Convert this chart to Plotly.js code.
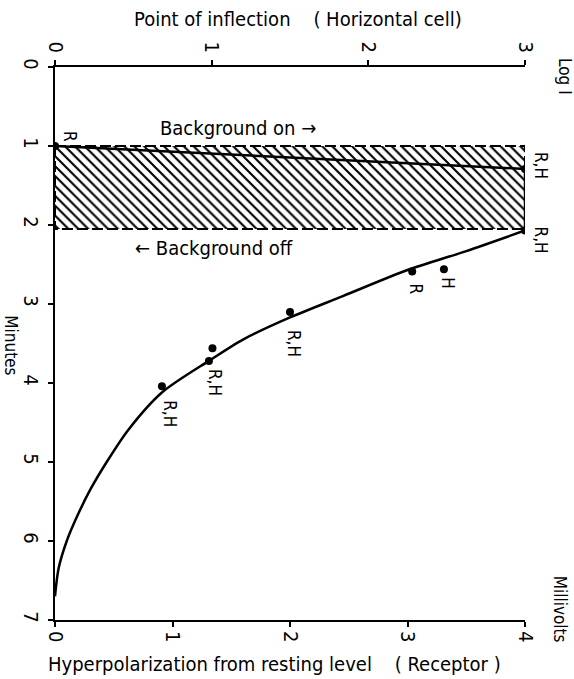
<!DOCTYPE html>
<html>
<head>
<meta charset="utf-8">
<script src="https://cdn.plot.ly/plotly-3.0.1.min.js"></script>
<style>
  html, body { margin: 0; padding: 0; background: #fff; }
  #chart { width: 574px; height: 679px; }
</style>
</head>
<body>
<div id="chart"></div>
<script>
// Receptor hyperpolarization (mV) and horizontal-cell point of inflection (log I)
// against time in minutes, with a background light on between 1 and 2 min.

// Measured points
const pointMv      = [0, 4, 4, 3.31, 3.04, 2.0, 1.34, 1.31, 0.91];
const pointMinutes = [1.0, 1.29, 2.07, 2.56, 2.59, 3.10, 3.56, 3.72, 4.04];
const pointLabels  = ['R', 'R,H', 'R,H', 'H', 'R', 'R,H', '', 'R,H', 'R,H'];

// Rising phase while background is on
const riseMv      = [0, 4, 4];
const riseMinutes = [1.0, 1.29, 2.07];

// Recovery after background off
const decayMv      = [4, 3.5, 3.0, 2.45, 2.0, 1.6, 1.32, 0.91, 0.62, 0.44, 0.3, 0.2, 0.1, 0.03, 0];
const decayMinutes = [2.07, 2.33, 2.57, 2.9, 3.17, 3.45, 3.71, 4.12, 4.6, 5.0, 5.35, 5.65, 6.0, 6.35, 6.7];

// Background period (minutes)
const backgroundOn  = 1.0;
const backgroundOff = 2.05;

// Axis ticks
const minuteTicks = [0, 1, 2, 3, 4, 5, 6, 7];
const mvTicks     = [0, 1, 2, 3, 4];
const logITicks   = [0, 1, 2, 3];

const FONT = 'Liberation Sans Narrow, DejaVu Sans Condensed, Arial Narrow, sans-serif';
const INK = '#000';

// label offsets in pixels [right, down] relative to each point
const labelShift = [[15, -10], [16, -4], [16, 9], [4, 14], [4, 17], [4, 31], [0, 0], [6, 22], [8, 28]];

const hatch = {
  x: [0, 4, 4, 0, 0],
  y: [backgroundOn, backgroundOn, backgroundOff, backgroundOff, backgroundOn],
  type: 'scatter', mode: 'lines',
  fill: 'toself',
  fillcolor: 'rgba(0,0,0,0)',
  fillpattern: { shape: '\\', size: 7, solidity: 0.3, fgcolor: INK, bgcolor: 'rgba(255,255,255,0)' },
  line: { color: INK, width: 2, dash: '11px,4px' },
  hoverinfo: 'skip', showlegend: false
};

const rise = {
  x: riseMv, y: riseMinutes, type: 'scatter', mode: 'lines',
  line: { color: INK, width: 2.5 }, showlegend: false
};

const decay = {
  x: decayMv, y: decayMinutes, type: 'scatter', mode: 'lines',
  line: { color: INK, width: 2.5, shape: 'spline', smoothing: 0.8 }, showlegend: false
};

const points = {
  x: pointMv, y: pointMinutes, type: 'scatter', mode: 'markers',
  marker: { color: INK, size: 8 }, showlegend: false
};

// dummy trace to bring up the top (log I) axis
const topAxisTrace = {
  x: [0, 3], y: [0, 0], xaxis: 'x2', yaxis: 'y', type: 'scatter', mode: 'markers',
  marker: { opacity: 0 }, hoverinfo: 'skip', showlegend: false
};

const annotations = [];
pointMv.forEach((mv, i) => {
  if (!pointLabels[i]) return;
  annotations.push({
    x: mv, y: pointMinutes[i], xref: 'x', yref: 'y',
    text: pointLabels[i], showarrow: false, textangle: 90,
    xshift: labelShift[i][0], yshift: -labelShift[i][1],
    font: { family: FONT, size: 17, color: INK }
  });
});

const textAnn = (text, x, y, size, angle) => ({
  text, x, y, xref: 'paper', yref: 'paper', showarrow: false,
  textangle: angle || 0, xanchor: 'center', yanchor: 'middle',
  font: { family: FONT, size, color: INK }
});

annotations.push(
  textAnn('Point of inflection\u00a0\u00a0\u00a0\u00a0( Horizontal cell)', 0.517, 1.087, 20),
  textAnn('Hyperpolarization from resting level\u00a0\u00a0\u00a0\u00a0( Receptor )', 0.468, -0.080, 20),
  textAnn('Minutes', -0.094, 0.497, 17, 90),
  textAnn('Log I', 1.085, 0.982, 17, 90),
  textAnn('Millivolts', 1.075, 0.02, 17, 90),
  textAnn('Background on \u2192', 0.389, 0.890, 20),
  textAnn('\u2190 Background off', 0.338, 0.673, 20)
);

const tickFont = { family: FONT, size: 20, color: INK };

const layout = {
  width: 574, height: 679,
  margin: { l: 55, r: 49, t: 67, b: 59, pad: 0 },
  paper_bgcolor: '#fff', plot_bgcolor: '#fff',
  showlegend: false,
  xaxis: {
    range: [0, 4], tickvals: mvTicks, ticktext: mvTicks.map(String),
    tickangle: 90, tickfont: tickFont,
    showgrid: false, zeroline: false,
    showline: true, linecolor: INK, linewidth: 2,
    ticks: 'outside', ticklen: 5, tickwidth: 2, tickcolor: INK
  },
  xaxis2: {
    range: [0, 3], overlaying: 'x', side: 'top',
    tickvals: logITicks, ticktext: logITicks.map(String),
    tickangle: 90, tickfont: tickFont,
    showgrid: false, zeroline: false,
    showline: true, linecolor: INK, linewidth: 2,
    ticks: 'outside', ticklen: 5, tickwidth: 2, tickcolor: INK
  },
  yaxis: {
    range: [7, 0], tickvals: minuteTicks, ticktext: minuteTicks.map(String),
    tickangle: 90, tickfont: tickFont,
    showgrid: false, zeroline: false,
    showline: true, linecolor: INK, linewidth: 2,
    ticks: 'outside', ticklen: 5, tickwidth: 2, tickcolor: INK
  },
  annotations
};

Plotly.newPlot('chart', [hatch, rise, decay, points, topAxisTrace], layout, { staticPlot: true });
</script>
</body>
</html>
